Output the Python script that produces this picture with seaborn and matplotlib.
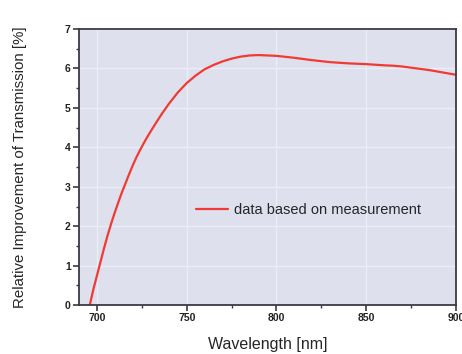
import matplotlib
matplotlib.use("Agg")
import matplotlib.pyplot as plt
from matplotlib.ticker import MultipleLocator
import seaborn as sns
import pandas as pd

# values
wavelength = [696, 698, 700, 702, 704, 706, 708, 710, 712, 714, 716, 718, 720, 722,
              724, 726, 728, 730, 733, 736, 740, 745, 750, 755, 760, 765, 770, 775,
              780, 785, 790, 795, 800, 810, 820, 830, 840, 850, 860, 865, 870, 875,
              880, 885, 890, 895, 900]
improvement = [0.0, 0.4, 0.75, 1.1, 1.45, 1.78, 2.08, 2.36, 2.62, 2.87, 3.1, 3.33, 3.55, 3.75,
               3.93, 4.1, 4.26, 4.41, 4.63, 4.84, 5.1, 5.39, 5.63, 5.82, 5.98, 6.09, 6.18, 6.25,
               6.3, 6.33, 6.34, 6.33, 6.32, 6.27, 6.21, 6.16, 6.13, 6.11, 6.08, 6.07, 6.05, 6.02,
               5.99, 5.96, 5.92, 5.88, 5.84]

df = pd.DataFrame({'wavelength': wavelength, 'improvement': improvement})

sns.set_theme(style="darkgrid", rc={'axes.facecolor': '#dfe0ee', 'grid.color': '#eceef6'})
plt.rcParams['font.family'] = ['Liberation Sans', 'DejaVu Sans']

fig = plt.figure(figsize=(4.62, 3.54), dpi=100)
ax = fig.add_axes([0.171, 0.138, 0.816, 0.780])

sns.lineplot(data=df, x='wavelength', y='improvement', ax=ax, color='#f03a33',
             linewidth=1.6, label='data based on measurement')

ax.set_xlim(690, 900)
ax.set_ylim(0, 7)
ax.xaxis.set_major_locator(MultipleLocator(50))
ax.xaxis.set_minor_locator(MultipleLocator(25))
ax.yaxis.set_major_locator(MultipleLocator(1))
ax.yaxis.set_minor_locator(MultipleLocator(0.5))
ax.grid(True, which='major', linewidth=1.0)
ax.grid(False, which='minor')

for s in ax.spines.values():
    s.set_visible(True)
    s.set_color('#3a3a44')
    s.set_linewidth(1.3)

ax.tick_params(axis='both', which='major', direction='out', length=4, width=1.2,
               color='#3a3a44', labelsize=7.5, labelcolor='#222222', pad=2,
               bottom=True, left=True)
ax.tick_params(axis='both', which='minor', direction='out', length=2.5, width=1.0,
               color='#3a3a44', bottom=True, left=True)
for lbl in ax.get_xticklabels() + ax.get_yticklabels():
    lbl.set_fontweight('bold')

ax.set_xlabel('Wavelength [nm]', fontsize=11.5, labelpad=10)
ax.set_ylabel('Relative Improvement of Transmission [%]', fontsize=10.8, labelpad=27)

ax.legend(loc='center left', bbox_to_anchor=(0.31, 0.345), frameon=False,
          fontsize=10.5, handlelength=2.2, handletextpad=0.4, borderpad=0, borderaxespad=0)

fig.savefig('out.png', dpi=100)
